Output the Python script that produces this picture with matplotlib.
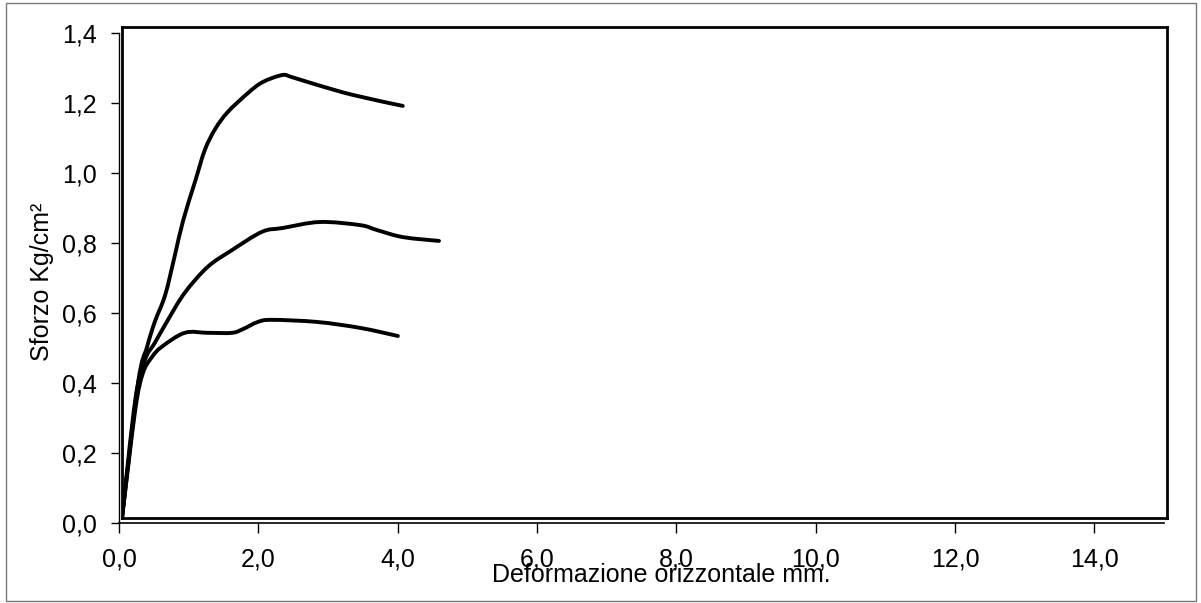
import matplotlib.pyplot as plt
from matplotlib.patches import Rectangle, PathPatch
from matplotlib.path import Path

plt.rcParams['font.family'] = ['Liberation Sans', 'DejaVu Sans']

# curve data: horizontal deformation (mm) vs stress (Kg/cm2)
def_high = [0, 0.23, 0.36, 0.47, 0.62, 0.76, 0.88, 1.05, 1.19, 1.34, 1.52, 1.81,
            2.02, 2.30, 2.44, 2.80, 3.32, 4.03]
str_high = [0, 0.385, 0.488, 0.559, 0.636, 0.750, 0.850, 0.960, 1.050, 1.110,
            1.158, 1.212, 1.243, 1.263, 1.257, 1.235, 1.206, 1.175]

def_mid = [0, 0.19, 0.33, 0.47, 0.66, 0.90, 1.23, 1.58, 2.01, 2.31, 2.84, 3.42,
           3.66, 4.03, 4.55]
str_mid = [0, 0.336, 0.451, 0.499, 0.565, 0.642, 0.716, 0.764, 0.816, 0.827,
           0.844, 0.835, 0.821, 0.801, 0.790]

def_low = [0, 0.19, 0.30, 0.43, 0.57, 0.90, 1.23, 1.58, 1.74, 1.95, 2.15, 2.80,
           3.42, 3.96]
str_low = [0, 0.308, 0.413, 0.459, 0.488, 0.528, 0.528, 0.528, 0.539, 0.559,
           0.565, 0.559, 0.542, 0.519]

xticks = [0, 2, 4, 6, 8, 10, 12, 14]
xtick_labels = ['0,0', '2,0', '4,0', '6,0', '8,0', '10,0', '12,0', '14,0']
yticks = [0, 0.2, 0.4, 0.6, 0.8, 1.0, 1.2, 1.4]
ytick_labels = ['0,0', '0,2', '0,4', '0,6', '0,8', '1,0', '1,2', '1,4']

W, H = 1201, 603


def frac(x0, y0, x1, y1):
    return [x0 / W, 1 - y1 / H, (x1 - x0) / W, (y1 - y0) / H]


def smooth_path(xs, ys):
    # smoothed line through the points (Catmull-Rom as cubic Bezier segments)
    pts = list(zip(xs, ys))
    n = len(pts)
    verts = [pts[0]]
    codes = [Path.MOVETO]
    for i in range(n - 1):
        p0 = pts[max(i - 1, 0)]
        p1 = pts[i]
        p2 = pts[i + 1]
        p3 = pts[min(i + 2, n - 1)]
        c1 = (p1[0] + (p2[0] - p0[0]) / 6, p1[1] + (p2[1] - p0[1]) / 6)
        c2 = (p2[0] - (p3[0] - p1[0]) / 6, p2[1] - (p3[1] - p1[1]) / 6)
        verts += [c1, c2, p2]
        codes += [Path.CURVE4] * 3
    return Path(verts, codes)


fig = plt.figure(figsize=(W / 100, H / 100), dpi=100)

# outer chart border
fig.patches.append(Rectangle((6 / W, 1 - 601 / H), 1190 / W, 598 / H,
                             transform=fig.transFigure, fill=False,
                             edgecolor='#777777', linewidth=1.0))

# value axes (drawn a few pixels off the plot area box)
ax_s = fig.add_axes(frac(119, 33, 1164, 523))
ax_s.set_xlim(0, 15)
ax_s.set_ylim(0, 1.4)
ax_s.spines['top'].set_visible(False)
ax_s.spines['right'].set_visible(False)
ax_s.spines['left'].set_linewidth(1.0)
ax_s.spines['bottom'].set_linewidth(1.2)
ax_s.set_xticks(xticks)
ax_s.set_xticklabels(xtick_labels, fontsize=18)
ax_s.set_yticks(yticks)
ax_s.set_yticklabels(ytick_labels, fontsize=18)
ax_s.tick_params(axis='x', direction='out', length=7, width=1, pad=11)
ax_s.tick_params(axis='y', direction='out', length=6, width=1, pad=10)
ax_s.patch.set_alpha(0)

# plot area
ax = fig.add_axes(frac(122, 27, 1167, 518))
ax.set_xlim(0, 15)
ax.set_ylim(0, 1.4)
ax.set_xticks([])
ax.set_yticks([])
ax.patch.set_alpha(0)
for s in ax.spines.values():
    s.set_linewidth(2.0)
    s.set_color('black')

for xs, ys in [(def_high, str_high), (def_mid, str_mid), (def_low, str_low)]:
    ax.add_patch(PathPatch(smooth_path(xs, ys), facecolor='none',
                           edgecolor='black', linewidth=2.8,
                           capstyle='round', joinstyle='round'))

fig.text(661 / W, 1 - 582 / H, 'Deformazione orizzontale mm.', fontsize=18,
         ha='center', va='baseline')
fig.text(42 / W, 1 - 282 / H, 'Sforzo Kg/cm²', fontsize=18, rotation=90,
         ha='center', va='center')

fig.savefig('out.png', dpi=100)
